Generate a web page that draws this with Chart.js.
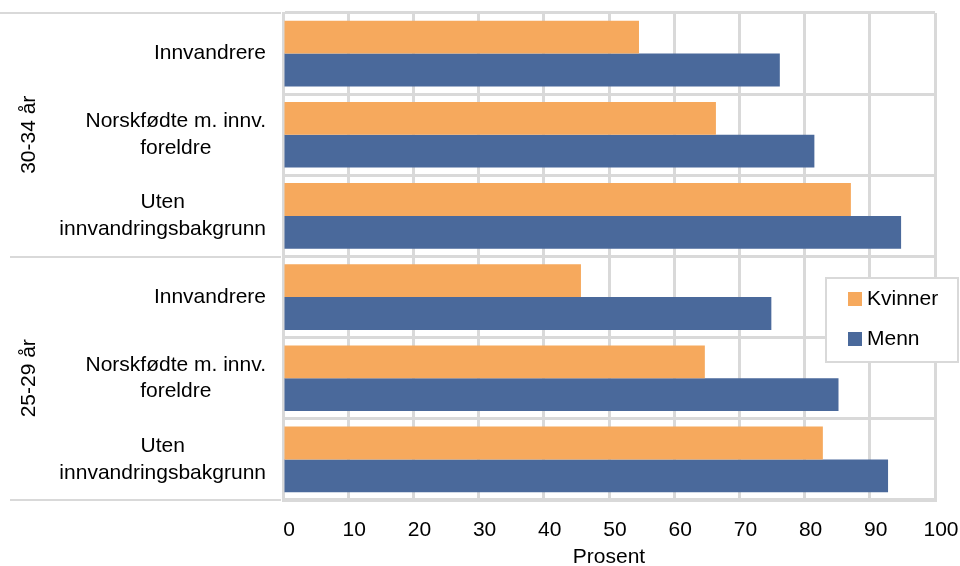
<!DOCTYPE html>
<html>
<head>
<meta charset="utf-8">
<script src="https://cdn.jsdelivr.net/npm/chart.js@4"></script>
<style>
  html, body { margin: 0; padding: 0; background: #fff; }
  #wrap { width: 960px; height: 566px; }
</style>
</head>
<body>
<div id="wrap"><canvas id="c" width="960" height="566"></canvas></div>
<script>
// ---- data ----
const groups = ['30-34 år', '25-29 år'];
const subcategories = [
  ['Innvandrere'],
  ['Norskfødte m. innv.', 'foreldre'],
  ['Uten', 'innvandringsbakgrunn']
];
const seriesNames = ['Kvinner', 'Menn'];
const kvinner = [54.6, 66.4, 87.1, 45.7, 64.7, 82.8];
const menn    = [76.2, 81.5, 94.8, 74.9, 85.2, 92.8];
const xTickMin = 0, xTickMax = 100, xTickStep = 10;
const xTitle = 'Prosent';

// ---- styles ----
const FONT = '"Liberation Sans", Arial, sans-serif';
const FSIZE = 21;
const GRID = '#d9d9d9';
const colors = ['#F6A95D', '#4A699B'];

const labels = [];
const groupOf = [];
groups.forEach((g, gi) => subcategories.forEach(s => { labels.push(s); groupOf.push(gi); }));

const customDraw = {
  id: 'customDraw',
  afterDraw(chart) {
    const ctx = chart.ctx;
    const y = chart.scales.y;
    const area = chart.chartArea;
    ctx.save();
    ctx.fillStyle = '#000';
    ctx.font = FSIZE + 'px ' + FONT;
    ctx.textBaseline = 'middle';
    ctx.textAlign = 'center';
    const lh = 26.6;
    const rightEdge = area.left - 17;
    labels.forEach((lines, i) => {
      const cy = y.getPixelForValue(i);
      const maxW = Math.max(...lines.map(l => ctx.measureText(l).width));
      const cx = rightEdge - maxW / 2;
      const start = cy - (lines.length * lh) / 2 + lh / 2;
      lines.forEach((l, k) => ctx.fillText(l, cx, start + k * lh));
    });
    // group separators & labels
    const half = (y.getPixelForValue(1) - y.getPixelForValue(0)) / 2;
    ctx.strokeStyle = GRID;
    ctx.lineWidth = 2;
    const bounds = [];
    groups.forEach((g, gi) => {
      const idx = groupOf.map((v, i) => v === gi ? i : -1).filter(i => i >= 0);
      const top = y.getPixelForValue(idx[0]) - half;
      const bot = y.getPixelForValue(idx[idx.length - 1]) + half;
      bounds.push(top, bot);
      ctx.save();
      ctx.translate(29, (top + bot) / 2);
      ctx.rotate(-Math.PI / 2);
      ctx.textAlign = 'center';
      ctx.fillText(g, 0, 0);
      ctx.restore();
    });
    [...new Set(bounds.map(b => Math.round(b)))].forEach((b, k) => {
      ctx.beginPath();
      ctx.moveTo(k === 0 ? 0 : 10, b);
      ctx.lineTo(area.left - 2, b);
      ctx.stroke();
    });
    // legend
    const lx = 826, ly = 278, lw = 132, lhgt = 84;
    ctx.fillStyle = '#fff';
    ctx.fillRect(lx, ly, lw, lhgt);
    ctx.strokeStyle = GRID;
    ctx.lineWidth = 2;
    ctx.strokeRect(lx, ly, lw, lhgt);
    ctx.textAlign = 'left';
    chart.data.datasets.forEach((ds, i) => {
      const cy = ly + 21 + i * 40;
      ctx.fillStyle = ds.backgroundColor;
      ctx.fillRect(lx + 22, cy - 7, 14, 14);
      ctx.fillStyle = '#000';
      ctx.fillText(ds.label, lx + 41, cy);
    });
    ctx.restore();
  }
};

new Chart(document.getElementById('c'), {
  type: 'bar',
  data: {
    labels: labels,
    datasets: [
      { label: seriesNames[0], data: kvinner, backgroundColor: colors[0] },
      { label: seriesNames[1], data: menn, backgroundColor: colors[1] }
    ]
  },
  options: {
    indexAxis: 'y',
    responsive: false,
    animation: false,
    layout: { padding: { left: 0, right: 25, top: 13, bottom: 0 } },
    datasets: { bar: { categoryPercentage: 0.81, barPercentage: 1.0 } },
    plugins: { legend: { display: false }, tooltip: { enabled: false } },
    scales: {
      x: {
        min: xTickMin, max: xTickMax,
        ticks: { stepSize: xTickStep, color: '#000', font: { family: FONT, size: FSIZE }, padding: 18, labelOffset: 6, maxRotation: 0 },
        grid: { color: GRID, lineWidth: 3, drawTicks: false },
        border: { color: GRID, width: 3 },
        title: { display: true, text: xTitle, color: '#000', font: { family: FONT, size: FSIZE, lineHeight: 0.8 }, padding: { top: 0, bottom: 0 } },
        afterFit(s) { s.height = 66; s.paddingLeft = 0; s.paddingRight = 0; }
      },
      y: {
        ticks: { display: false },
        grid: { color: GRID, lineWidth: 3, drawTicks: false, offset: true },
        border: { color: GRID, width: 3 },
        afterFit(s) { s.width = 283; }
      }
    }
  },
  plugins: [customDraw]
});
</script>
</body>
</html>
